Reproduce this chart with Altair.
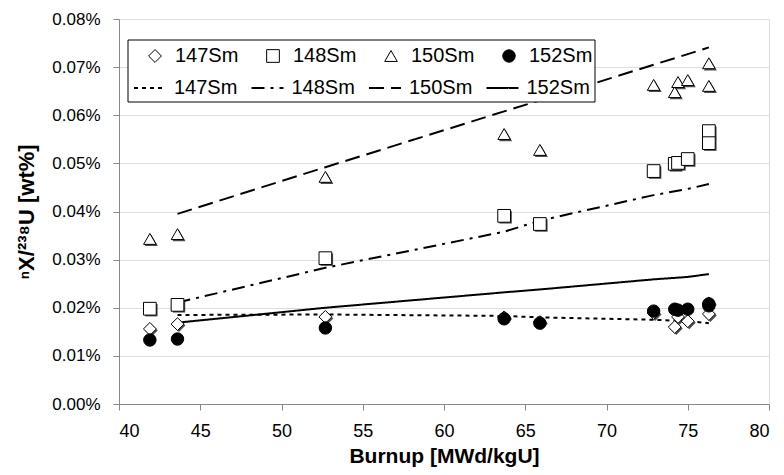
import altair as alt
import pandas as pd

# ---- data ----
series_names = ["147Sm", "148Sm", "150Sm", "152Sm"]
fit_names = ["147Sm fit", "148Sm fit", "150Sm fit", "152Sm fit"]

burnup = [41.9, 43.6, 52.7, 63.7, 65.9, 72.9, 74.2, 74.4, 75.0, 76.3, 76.3]
sm147 = [0.0156, 0.0166, 0.0181, 0.0180, 0.0170, 0.0189, 0.0160, 0.0181, 0.0172, 0.0209, 0.0187]
sm148 = [0.0198, 0.0206, 0.0303, 0.0391, 0.0374, 0.0484, 0.0499, 0.0501, 0.0509, 0.0567, 0.0542]
sm150 = [0.0343, 0.0353, 0.0472, 0.0561, 0.0528, 0.0663, 0.0648, 0.0669, 0.0673, 0.0708, 0.0661]
sm152 = [0.0133, 0.0135, 0.0158, 0.0177, 0.0168, 0.0193, 0.0197, 0.0195, 0.0197, 0.0208, 0.0204]

fit_burnup = [43.6, 52.7, 63.7, 65.9, 72.9, 75.0, 76.3]
fit147 = [0.0185, 0.0186, 0.0183, 0.0180, 0.0175, 0.0172, 0.0168]
fit148 = [0.0211, 0.0283, 0.0358, 0.0381, 0.0434, 0.0447, 0.0457]
fit150 = [0.0395, 0.0492, 0.0608, 0.0631, 0.0705, 0.0727, 0.0741]
fit152 = [0.0169, 0.0200, 0.0232, 0.0238, 0.0259, 0.0264, 0.0270]

x_ticks = [40, 45, 50, 55, 60, 65, 70, 75, 80]
y_ticks = [0.0, 0.01, 0.02, 0.03, 0.04, 0.05, 0.06, 0.07, 0.08]

rows = []
for name, vals in zip(series_names, [sm147, sm148, sm150, sm152]):
    for b, v in zip(burnup, vals):
        rows.append({"burnup": b, "value": v, "series": name})
points_df = pd.DataFrame(rows)

frows = []
for name, vals in zip(fit_names, [fit147, fit148, fit150, fit152]):
    for b, v in zip(fit_burnup, vals):
        frows.append({"burnup": b, "value": v, "fit": name})
fit_df = pd.DataFrame(frows)

FONT = "Liberation Sans"

x_enc = alt.X(
    "burnup:Q",
    scale=alt.Scale(domain=[40, 80], nice=False, zero=False),
    axis=alt.Axis(
        values=x_ticks, grid=False, title="Burnup [MWd/kgU]",
        labelFontSize=18, labelPadding=12, tickSize=6,
        titleFontSize=21, titleFontWeight="bold", titleY=58,
        titleBaseline="alphabetic",
    ),
)
y_enc = alt.Y(
    "value:Q",
    scale=alt.Scale(domain=[0, 0.08], nice=False),
    axis=alt.Axis(
        values=y_ticks, grid=True, title="ⁿX/²³⁸U [wt%]",
        labelExpr="format(datum.value, '.2f') + '%'",
        labelFontSize=17, labelPadding=13, tickSize=6,
        titleFontSize=22, titleFontWeight="bold", titleAngle=270,
        titleX=-86, titleY=192.5, titleBaseline="alphabetic", titleAlign="center",
    ),
)

shape_range = ["diamond", "square", "triangle-up", "circle"]
size_range = [165, 155, 170, 45]

lines = alt.Chart(fit_df).mark_line(color="black", strokeWidth=2).encode(
    x=x_enc,
    y=y_enc,
    strokeDash=alt.StrokeDash(
        "fit:N",
        scale=alt.Scale(domain=fit_names, range=[[4, 4], [13, 6, 3, 6], [15, 7], [1, 0]]),
        legend=alt.Legend(
            orient="none", legendX=14, legendY=52, direction="horizontal", title=None,
            labelExpr="replace(datum.label, ' fit', '')",
            labelFontSize=20, labelFont=FONT, labelColor="black", labelOffset=7,
            columnPadding=9.5, padding=0, symbolType="stroke", symbolSize=1024,
            symbolStrokeWidth=2, symbolStrokeColor="black",
        ),
    ),
)

box = alt.Chart(pd.DataFrame({"k": [0]})).mark_rect(
    fill="white", stroke="black", strokeWidth=1
).encode(x=alt.value(9), x2=alt.value(476), y=alt.value(21), y2=alt.value(83))

# drop shadows, one small layer per marker type (no legend of their own)
shadows = [
    alt.Chart(points_df).transform_filter(alt.datum.series == name).mark_point(
        shape=shp, size=sz, filled=True, fill="#222222", opacity=0.8,
        strokeWidth=0, xOffset=1.5, yOffset=1.5,
    ).encode(x=x_enc, y=y_enc)
    for name, shp, sz in zip(series_names, shape_range, size_range)
]

pts = alt.Chart(points_df).mark_point(
    filled=True, stroke="black", strokeWidth=1, opacity=1
).encode(
    x=x_enc,
    y=y_enc,
    shape=alt.Shape(
        "series:N", scale=alt.Scale(domain=series_names, range=shape_range),
        legend=alt.Legend(
            orient="none", legendX=26, legendY=27, direction="horizontal", title=None,
            labelFontSize=20, labelFont=FONT, labelColor="black", labelOffset=10,
            columnPadding=24, padding=0, symbolStrokeColor="black", symbolStrokeWidth=1,
        ),
    ),
    size=alt.Size("series:N", scale=alt.Scale(domain=series_names, range=size_range)),
    fill=alt.Fill("series:N", scale=alt.Scale(domain=series_names, range=["white", "white", "white", "black"])),
)

chart = alt.layer(lines, box, *shadows, pts).properties(
    width=650,
    height=385,
    padding={"left": 111, "top": 11, "right": 7, "bottom": 63},
    autosize=alt.AutoSizeParams(type="none"),
).configure_view(
    stroke="#808080", strokeWidth=1.5
).configure_axis(
    labelFont=FONT, titleFont=FONT, labelColor="black", titleColor="black",
    domainColor="black", domainWidth=1, tickColor="black", tickWidth=1,
    gridColor="#333333", gridWidth=1, gridOpacity=1,
).configure_legend(
    labelFont=FONT
).configure(background="white")

chart.save("out.html", embed_options={"renderer": "svg", "actions": False})
